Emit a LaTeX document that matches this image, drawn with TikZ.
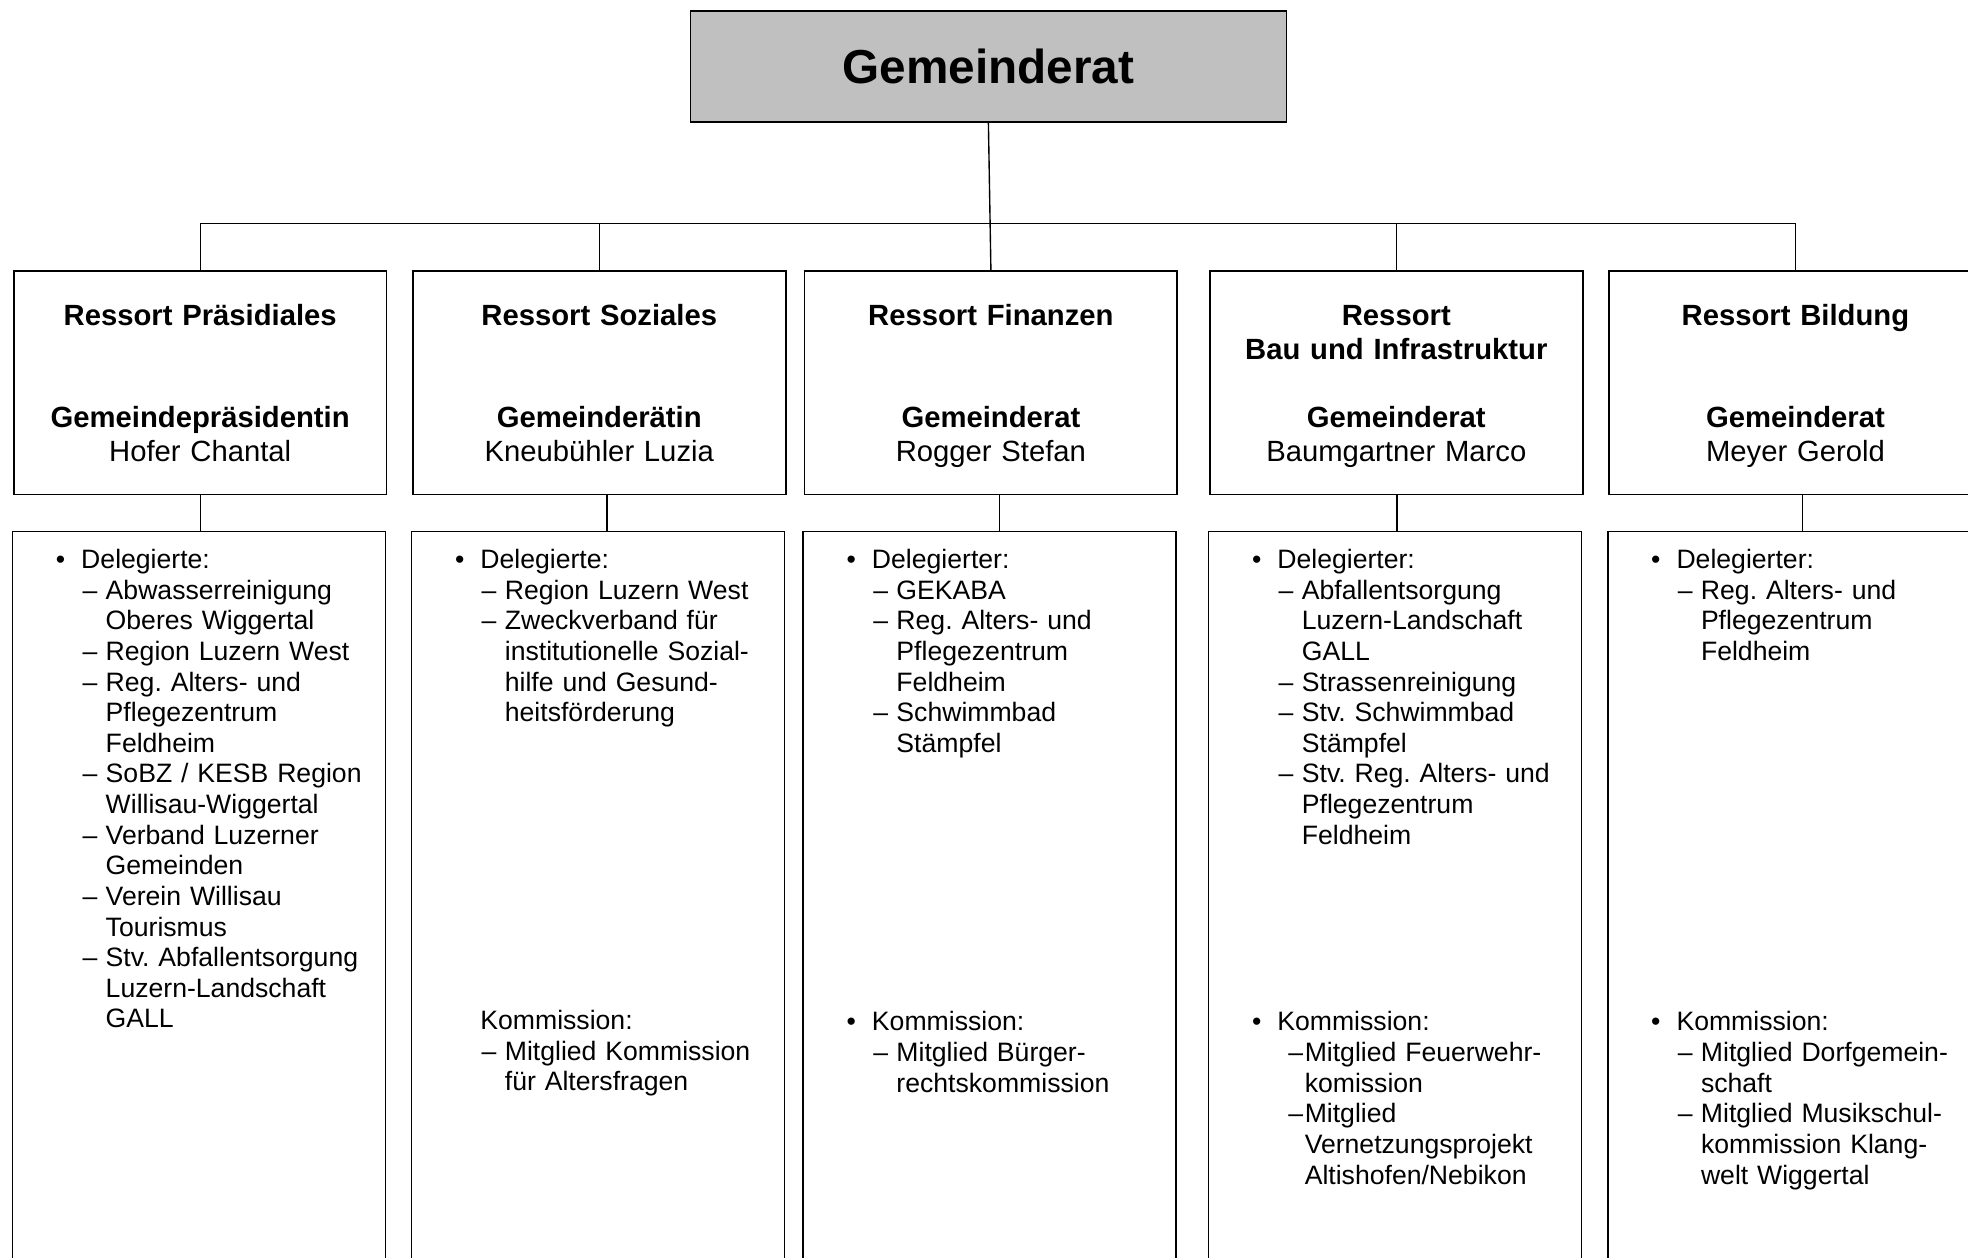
\documentclass[tikz,border=0pt]{standalone}
\usepackage{fontspec}
\setmainfont{Liberation Sans}
\frenchspacing

\newcommand{\bul}[1]{\makebox[20.2pt][l]{\textbullet}#1}
\newcommand{\dsh}[1]{\hspace*{21.2pt}\makebox[18.5pt][l]{\textendash}#1}
\newcommand{\cnt}[1]{\hspace*{39.7pt}#1}
\newcommand{\dshk}[1]{\hspace*{29pt}\makebox[13pt][l]{\textendash}#1}
\newcommand{\cntk}[1]{\hspace*{42pt}#1}

\begin{document}
\begin{tikzpicture}[x=1pt, y=-1pt,
    ratbox/.style={draw, line width=1.3pt, fill={rgb,255:red,192;green,192;blue,192},
      minimum width=475pt, minimum height=88pt, inner sep=0pt,
      font=\bfseries\fontsize{38}{44}\selectfont},
    resbox/.style={draw, line width=1.3pt, minimum width=297pt, minimum height=178pt, inner sep=0pt},
    listbox/.style={draw, line width=1.3pt, minimum width=297pt, minimum height=656.5pt, inner sep=0pt},
    kopf/.style={anchor=base, inner sep=0pt, text width=290pt, align=center,
      font=\frenchspacing\fontsize{23.3}{27}\selectfont},
    liste/.style={anchor=base west, inner sep=0pt, text width=262pt, align=left,
      font=\frenchspacing\fontsize{21.2}{24.4}\selectfont},
    linie/.style={line width=1.1pt}]

    \useasboundingbox (0,0) rectangle (1568,1002);
    \clip (0,0) rectangle (1568,1002);

    % Kasten oben
    \node[ratbox] (rat) at (787.5,53) {Gemeinderat};

    % Ressorts
    \node[resbox] (r1) at (159.5,305) {};
    \node[resbox] (r2) at (477.5,305) {};
    \node[resbox] (r3) at (789.5,305) {};
    \node[resbox] (r4) at (1112.5,305) {};
    \node[resbox] (r5) at (1430.5,305) {};

    \node[kopf] (t1) at ([yshift=-44pt]r1.north) {\textbf{Ressort Präsidiales}\\[54pt]\textbf{Gemeindepräsidentin}\\Hofer Chantal};
    \node[kopf] (t2) at ([yshift=-44pt]r2.north) {\textbf{Ressort Soziales}\\[54pt]\textbf{Gemeinderätin}\\Kneubühler Luzia};
    \node[kopf] (t3) at ([yshift=-44pt]r3.north) {\textbf{Ressort Finanzen}\\[54pt]\textbf{Gemeinderat}\\Rogger Stefan};
    \node[kopf] (t4) at ([yshift=-44pt]r4.north) {\textbf{Ressort}\\\textbf{Bau und Infrastruktur}\\[27pt]\textbf{Gemeinderat}\\Baumgartner Marco};
    \node[kopf] (t5) at ([yshift=-44pt]r5.north) {\textbf{Ressort Bildung}\\[54pt]\textbf{Gemeinderat}\\Meyer Gerold};

    % Delegationen
    \node[listbox] (l1) at (158.5,751.75) {};
    \node[listbox] (l2) at (476.5,751.75) {};
    \node[listbox] (l3) at (788.5,751.75) {};
    \node[listbox] (l4) at (1111.5,751.75) {};
    \node[listbox] (l5) at (1429.5,751.75) {};

    \node[liste] (d1) at ([xshift=35pt, yshift=-30.1pt]l1.north west) {\bul{Delegierte:}\\
      \dsh{Abwasserreinigung}\\ \cnt{Oberes Wiggertal}\\ \dsh{Region Luzern West}\\
      \dsh{Reg. Alters- und}\\ \cnt{Pflegezentrum}\\ \cnt{Feldheim}\\
      \dsh{SoBZ / KESB Region}\\ \cnt{Willisau-Wiggertal}\\ \dsh{Verband Luzerner}\\
      \cnt{Gemeinden}\\ \dsh{Verein Willisau}\\ \cnt{Tourismus}\\
      \dsh{Stv. Abfallentsorgung}\\ \cnt{Luzern-Landschaft}\\ \cnt{GALL}};

    \node[liste] (d2) at ([xshift=35pt, yshift=-30.1pt]l2.north west) {\bul{Delegierte:}\\
      \dsh{Region Luzern West}\\ \dsh{Zweckverband für}\\ \cnt{institutionelle Sozial-}\\
      \cnt{hilfe und Gesund-}\\ \cnt{heitsförderung}};
    \node[liste] (k2) at ([xshift=35pt, yshift=-397.5pt]l2.north west) {\hspace*{20.2pt}Kommission:\\
      \dsh{Mitglied Kommission}\\ \cnt{für Altersfragen}};

    \node[liste] (d3) at ([xshift=35pt, yshift=-30.1pt]l3.north west) {\bul{Delegierter:}\\
      \dsh{GEKABA}\\ \dsh{Reg. Alters- und}\\ \cnt{Pflegezentrum}\\ \cnt{Feldheim}\\
      \dsh{Schwimmbad}\\ \cnt{Stämpfel}};
    \node[liste] (k3) at ([xshift=35pt, yshift=-398.5pt]l3.north west) {\bul{Kommission:}\\
      \dsh{Mitglied Bürger-}\\ \cnt{rechtskommission}};

    \node[liste] (d4) at ([xshift=35pt, yshift=-30.1pt]l4.north west) {\bul{Delegierter:}\\
      \dsh{Abfallentsorgung}\\ \cnt{Luzern-Landschaft}\\ \cnt{GALL}\\ \dsh{Strassenreinigung}\\
      \dsh{Stv. Schwimmbad}\\ \cnt{Stämpfel}\\ \dsh{Stv. Reg. Alters- und}\\
      \cnt{Pflegezentrum}\\ \cnt{Feldheim}};
    \node[liste] (k4) at ([xshift=35pt, yshift=-398.5pt]l4.north west) {\bul{Kommission:}\\
      \dshk{Mitglied Feuerwehr-}\\ \cntk{komission}\\ \dshk{Mitglied}\\
      \cntk{Vernetzungsprojekt}\\ \cntk{Altishofen/Nebikon}};

    \node[liste] (d5) at ([xshift=35pt, yshift=-30.1pt]l5.north west) {\bul{Delegierter:}\\
      \dsh{Reg. Alters- und}\\ \cnt{Pflegezentrum}\\ \cnt{Feldheim}};
    \node[liste] (k5) at ([xshift=35pt, yshift=-398.5pt]l5.north west) {\bul{Kommission:}\\
      \dsh{Mitglied Dorfgemein-}\\ \cnt{schaft}\\ \dsh{Mitglied Musikschul-}\\
      \cnt{kommission Klang-}\\ \cnt{welt Wiggertal}};

    % Verbindungen
    \coordinate (bus) at (0,178);
    \draw[linie] (rat.south) -- (r3.north);
    \draw[linie] (r1.north) -- (r1.north |- bus) -- (r5.north |- bus) -- (r5.north);
    \foreach \i in {2,4}
      \draw[linie] (r\i.north) -- (r\i.north |- bus);

    \foreach \i/\dx in {1/0,2/6,3/7,4/0.5,5/5.5}
      \draw[linie] ([xshift=\dx pt]r\i.south) -- ([xshift=\dx pt]r\i.south |- l\i.north);

\end{tikzpicture}
\end{document}
